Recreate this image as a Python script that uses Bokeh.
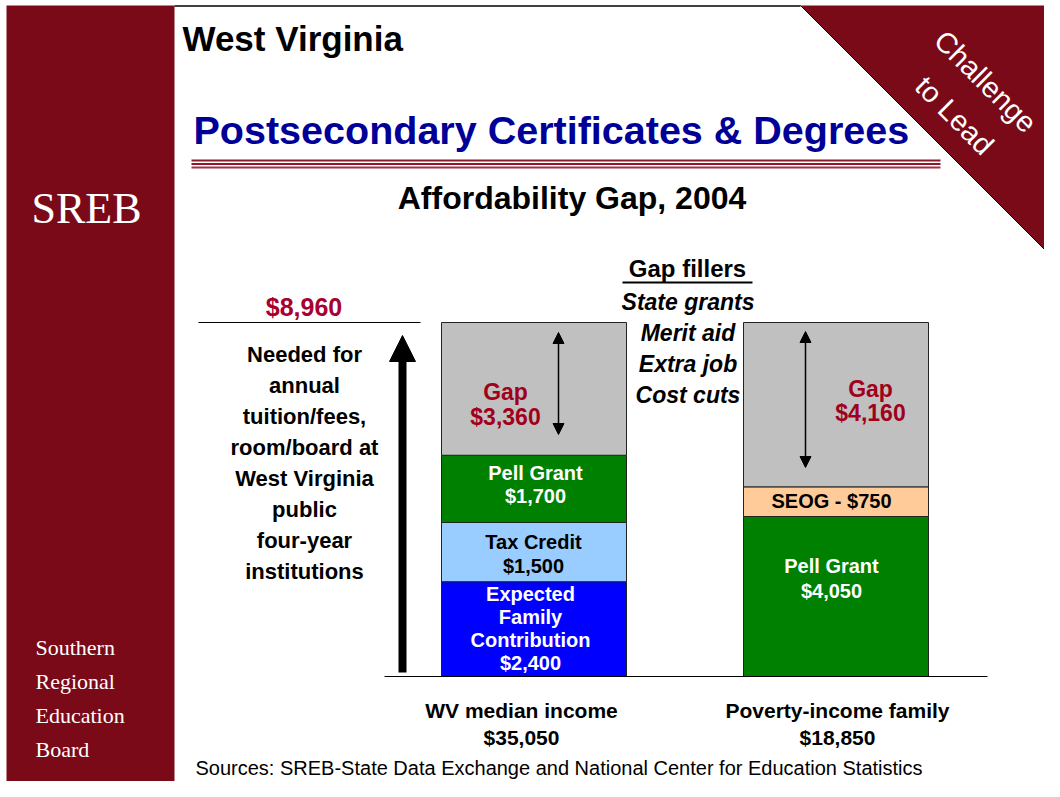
import math
from bokeh.plotting import figure
from bokeh.models import Range1d, Arrow, NormalHead, ColumnDataSource
from bokeh.core.properties import value
from bokeh.embed import file_html
from bokeh.resources import INLINE

# ---------------- data ----------------
categories = ["WV median income", "Poverty-income family"]
category_incomes = ["$35,050", "$18,850"]
total_needed = 8960
total_label = "$8,960"

wv_segments = ["Expected Family Contribution", "Tax Credit", "Pell Grant", "Gap"]
wv_values = [2400, 1500, 1700, 3360]
poverty_segments = ["Pell Grant", "SEOG", "Gap"]
poverty_values = [4050, 750, 4160]

gap_fillers = ["State grants", "Merit aid", "Extra job", "Cost cuts"]
needed_lines = ["Needed for", "annual", "tuition/fees,", "room/board at",
                "West Virginia", "public", "four-year", "institutions"]
board_lines = ["Southern", "Regional", "Education", "Board"]

segment_colors = {
    "Expected Family Contribution": "#0000FF",
    "Tax Credit": "#99CCFF",
    "Pell Grant": "#008000",
    "SEOG": "#FFCC99",
    "Gap": "#C0C0C0",
}

# ---------------- geometry (picture pixels -> data) ----------------
W, H = 1044, 781
OFF = 0
BASE_PY, TOP_PY = 676, 322
DPP = total_needed / (BASE_PY - TOP_PY)
BAR0_PX, BAR_STEP_PX = 533.5, 302
BAR_W = 185 / BAR_STEP_PX


def X(px):
    return (px - BAR0_PX) / BAR_STEP_PX


def Y(py):
    return (BASE_PY - py) * DPP


MAROON = "#7A0A18"
FONT = "Liberation Sans"
SERIF = "Liberation Serif"

p = figure(width=W, height=H,
           x_range=Range1d(X(OFF), X(OFF + W)),
           y_range=Range1d(Y(OFF + H), Y(OFF)),
           output_backend="svg", toolbar_location=None,
           x_axis_location=None, y_axis_location=None,
           min_border=0, outline_line_color=None,
           background_fill_color="white", border_fill_color="white")
p.grid.grid_line_color = None


def txt(px, py, s, size, color="black", style="bold", align="center",
        font=FONT, angle=0.0):
    p.text(x=[X(px)], y=[Y(py)], text=[s], text_font=value(font),
           text_font_size=f"{size}px", text_font_style=style,
           text_color=color, text_align=align, text_baseline="middle",
           angle=angle)


# ---------------- decorations ----------------
p.quad(left=[X(6)], right=[X(174)], top=[Y(5)], bottom=[Y(800)],
       fill_color=MAROON, line_color=None)
p.segment(x0=[X(174)], y0=[Y(5.5)], x1=[X(800)], y1=[Y(5.5)],
          line_color="black", line_width=1.5)
p.patch(x=[X(800), X(1070), X(1070)], y=[Y(5), Y(5), Y(275)],
        fill_color=MAROON, line_color=None)
p.segment(x0=[X(800)], y0=[Y(5)], x1=[X(1070)], y1=[Y(275)],
          line_color="black", line_width=1)

txt(86, 208, "SREB", 44, color="white", style="normal", font=SERIF)
for i, s in enumerate(board_lines):
    txt(35, 647 + 34 * i, s, 22, color="white", style="normal",
        align="left", font=SERIF)

txt(985, 81, "Challenge", 29, color="white", style="normal", angle=-math.pi / 4)
txt(954, 115, "to Lead", 29, color="white", style="normal", angle=-math.pi / 4)

txt(182, 38, "West Virginia", 35, align="left")
txt(193, 129, "Postsecondary Certificates & Degrees", 39.5, color="#000099",
    align="left")
for py, c in [(160, "#8B1A2B"), (163.5, "#8B1A2B"), (167, "#A33345")]:
    p.segment(x0=[X(191)], y0=[Y(py)], x1=[X(940)], y1=[Y(py)],
              line_color=c, line_width=2)

txt(571.5, 197, "Affordability Gap, 2004", 32)

# ---------------- needed total ----------------
txt(303.5, 306, total_label, 25, color="#A80030")
p.segment(x0=[X(198)], y0=[total_needed], x1=[X(420)], y1=[total_needed],
          line_color="black", line_width=1.2)
p.add_layout(Arrow(end=NormalHead(size=26, fill_color="black", line_color="black"),
                   x_start=X(402), y_start=Y(672), x_end=X(402), y_end=Y(335),
                   line_width=8, line_color="black"))
for i, s in enumerate(needed_lines):
    txt(304, 354 + 31 * i, s, 22)

# ---------------- stacked bars ----------------
def stack(xi, segs, vals):
    bottoms, tops, b = [], [], 0
    for v in vals:
        bottoms.append(b)
        b += v
        tops.append(b)
    src = ColumnDataSource(dict(x=[xi] * len(vals), bottom=bottoms, top=tops,
                                color=[segment_colors[s] for s in segs]))
    p.vbar(x="x", bottom="bottom", top="top", width=BAR_W, source=src,
           fill_color="color", line_color="#222222", line_width=1)


stack(0, wv_segments, wv_values)
stack(1, poverty_segments, poverty_values)

p.segment(x0=[X(384)], y0=[0], x1=[X(987)], y1=[0],
          line_color="black", line_width=1.2)

GAPRED = "#A0001C"
# WV bar labels
txt(505, 391, "Gap", 23, color=GAPRED)
txt(505, 416, f"${wv_values[3]:,}", 23, color=GAPRED)
txt(535, 472, "Pell Grant", 20, color="white")
txt(535, 495, f"${wv_values[2]:,}", 20, color="white")
txt(533, 541, "Tax Credit", 20)
txt(533, 565, f"${wv_values[1]:,}", 20)
for i, s in enumerate(["Expected", "Family", "Contribution", f"${wv_values[0]:,}"]):
    txt(530, 593 + 23.3 * i, s, 20, color="white")

# poverty bar labels
txt(870, 388, "Gap", 23, color=GAPRED)
txt(870, 412, f"${poverty_values[2]:,}", 23, color=GAPRED)
txt(831, 500, f"SEOG - ${poverty_values[1]:,}", 20)
txt(831, 565, "Pell Grant", 20, color="white")
txt(831, 590, f"${poverty_values[0]:,}", 20, color="white")

# gap double arrows
for xp, y0p, y1p in [(558, 434, 332), (805, 467, 331)]:
    p.add_layout(Arrow(start=NormalHead(size=11, fill_color="black", line_color="black"),
                       end=NormalHead(size=11, fill_color="black", line_color="black"),
                       x_start=X(xp), y_start=Y(y0p), x_end=X(xp), y_end=Y(y1p),
                       line_width=1.5, line_color="black"))

# gap fillers
txt(687, 268, "Gap fillers", 24)
p.segment(x0=[X(622)], y0=[Y(282)], x1=[X(752)], y1=[Y(282)],
          line_color="black", line_width=2)
for i, s in enumerate(gap_fillers):
    txt(687.5, 301 + 31 * i, s, 23, style="bold italic")

# category labels
for cx, name, inc in zip([521, 837], categories, category_incomes):
    txt(cx, 710, name, 21)
    txt(cx, 737, inc, 21)

txt(195, 767, "Sources: SREB-State Data Exchange and National Center for Education Statistics",
    20, style="normal", align="left")

open("out.html", "w").write(file_html(p, INLINE))
